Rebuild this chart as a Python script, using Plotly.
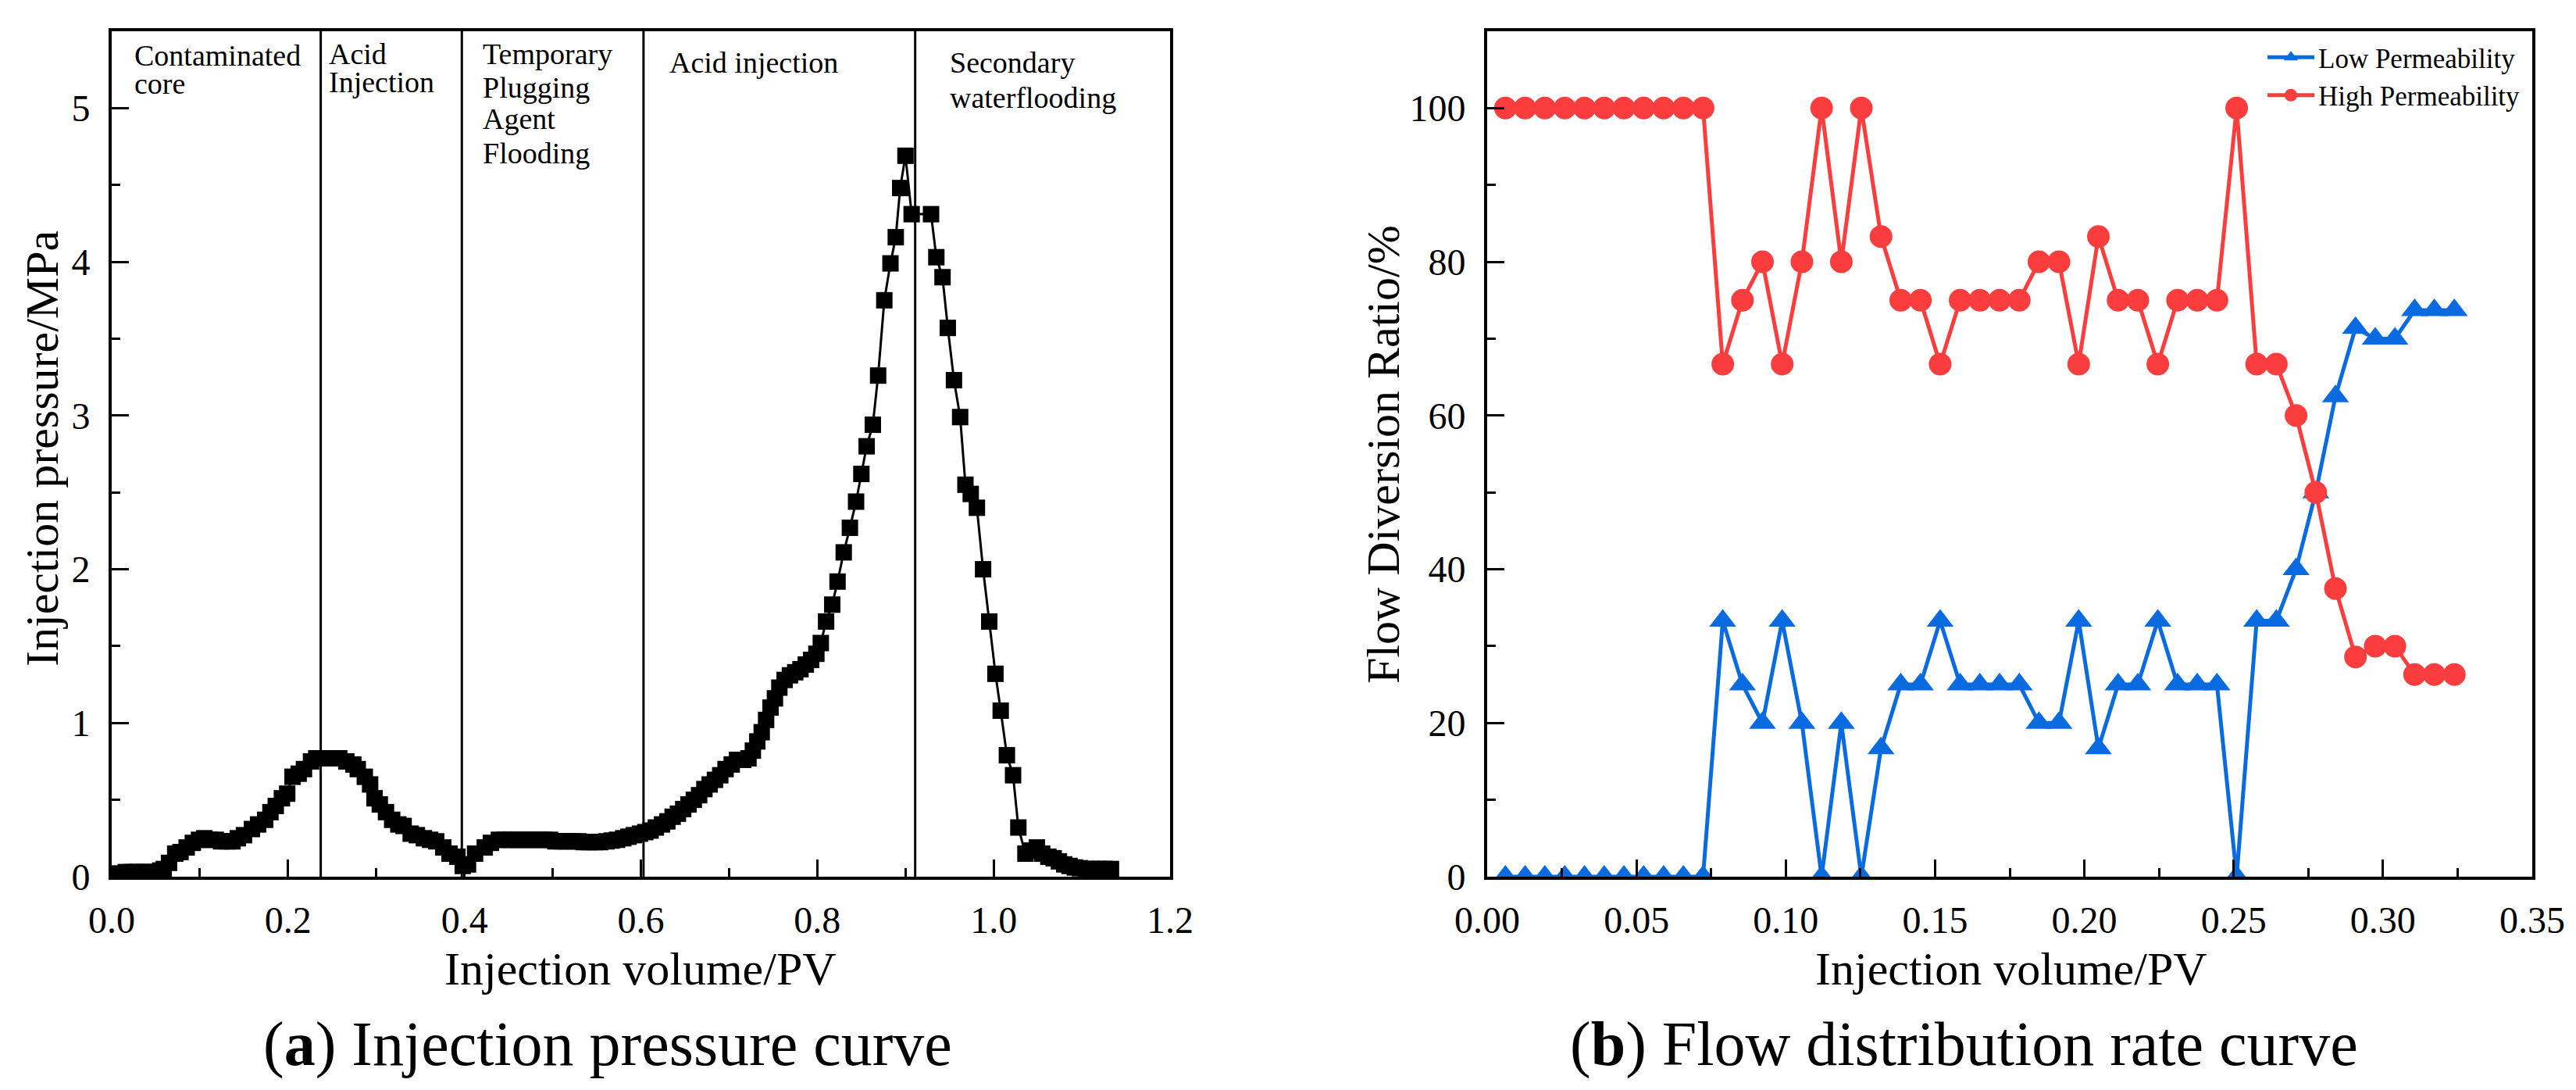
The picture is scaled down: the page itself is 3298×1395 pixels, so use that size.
import plotly.graph_objects as go

W, H = 3298, 1395

# ---- (a) injection pressure curve ----
pv_a = [
    0.003, 0.010, 0.016, 0.023, 0.029, 0.036, 0.042, 0.049, 0.055,
    0.059, 0.065, 0.072, 0.078, 0.085, 0.092, 0.099, 0.105, 0.111, 0.118,
    0.124, 0.131, 0.137, 0.143, 0.150, 0.159, 0.166, 0.174, 0.180, 0.186,
    0.193, 0.199, 0.205, 0.212, 0.218, 0.226, 0.232, 0.239, 0.245, 0.252,
    0.258, 0.266, 0.274, 0.279, 0.287, 0.293, 0.298, 0.304, 0.311, 0.318,
    0.325, 0.331, 0.339, 0.346, 0.354, 0.361, 0.368, 0.376, 0.383, 0.392,
    0.398, 0.404, 0.412, 0.423, 0.430, 0.439, 0.446, 0.452, 0.459, 0.465,
    0.471, 0.478, 0.484, 0.490, 0.497,
    0.503, 0.510, 0.516, 0.522, 0.529, 0.535, 0.541, 0.548, 0.554, 0.561,
    0.567, 0.573, 0.580, 0.586, 0.592, 0.599, 0.605, 0.611, 0.617, 0.624,
    0.630, 0.636, 0.642, 0.648, 0.654, 0.660, 0.666, 0.672, 0.678, 0.684,
    0.690, 0.696, 0.703, 0.709, 0.716, 0.722, 0.727, 0.732, 0.737, 0.742,
    0.747, 0.752, 0.757, 0.763, 0.769, 0.775, 0.781, 0.787, 0.793, 0.799,
    0.804, 0.810, 0.817, 0.823, 0.830, 0.837, 0.844, 0.850, 0.856, 0.863,
    0.869, 0.876, 0.883, 0.889, 0.894, 0.900, 0.907,
    0.929, 0.935, 0.942, 0.948, 0.955, 0.962, 0.968, 0.974, 0.981, 0.988,
    0.995, 1.002, 1.008, 1.015, 1.022, 1.028, 1.036, 1.042, 1.049, 1.055,
    1.062, 1.068, 1.074, 1.080, 1.086, 1.092, 1.098, 1.105, 1.112, 1.119,
    1.126, 1.133,
]
pressure = [
    0.02, 0.02, 0.03, 0.03, 0.03, 0.03, 0.03, 0.03, 0.04,
    0.05, 0.09, 0.15, 0.16, 0.19, 0.22, 0.24, 0.25, 0.24, 0.24,
    0.23, 0.23, 0.23, 0.25, 0.27, 0.31, 0.34, 0.37, 0.42, 0.46,
    0.51, 0.54, 0.65, 0.67, 0.70, 0.75, 0.77, 0.77, 0.77, 0.77,
    0.77, 0.75, 0.73, 0.70, 0.65, 0.60, 0.51, 0.47, 0.42, 0.37,
    0.34, 0.33, 0.28, 0.27, 0.25, 0.24, 0.23, 0.19, 0.15, 0.13,
    0.07, 0.08, 0.15, 0.19, 0.22, 0.24, 0.24, 0.24, 0.24, 0.24,
    0.24, 0.24, 0.24, 0.24, 0.24,
    0.23, 0.23, 0.23, 0.23, 0.23, 0.225, 0.225, 0.225, 0.225, 0.23,
    0.235, 0.24, 0.25, 0.26, 0.27, 0.28, 0.29, 0.30, 0.32, 0.34,
    0.36, 0.39, 0.41, 0.44, 0.47, 0.50, 0.53, 0.57, 0.60, 0.63,
    0.66, 0.70, 0.73, 0.76, 0.76, 0.77, 0.82, 0.88, 0.94, 1.02,
    1.10, 1.16, 1.23, 1.28, 1.31, 1.33, 1.35, 1.38, 1.41, 1.45,
    1.52, 1.66, 1.77, 1.92, 2.11, 2.27, 2.44, 2.62, 2.80, 2.94,
    3.26, 3.75, 3.99, 4.16, 4.48, 4.69, 4.31,
    4.31, 4.03, 3.90, 3.57, 3.23, 2.99, 2.55, 2.49, 2.40, 2.00,
    1.66, 1.32, 1.08, 0.79, 0.66, 0.32, 0.15, 0.17, 0.19, 0.15,
    0.13, 0.12, 0.10, 0.08, 0.07, 0.06, 0.055, 0.05, 0.05, 0.05,
    0.05, 0.05,
]
stage_bounds = [0.237, 0.397, 0.603, 0.911]

# stage captions: text, left x (px), baseline y (px)
stage_text = [
    ("Contaminated", 162, 76), ("core", 162, 112),
    ("Acid", 411, 74), ("Injection", 411, 110),
    ("Temporary", 608, 74), ("Plugging", 608, 117),
    ("Agent", 608, 157), ("Flooding", 608, 201),
    ("Acid injection", 847, 85),
    ("Secondary", 1206, 85), ("waterflooding", 1206, 130),
]

# ---- (b) flow distribution rate curve ----
pv_b = [
    0.0061, 0.0127, 0.0193, 0.0260, 0.0326, 0.0392, 0.0458, 0.0524, 0.0591, 0.0657,
    0.0723, 0.0789, 0.0855, 0.0922, 0.0988, 0.1054, 0.1120, 0.1186, 0.1253, 0.1319,
    0.1385, 0.1451, 0.1517, 0.1584, 0.1650, 0.1716, 0.1782, 0.1848, 0.1915, 0.1981,
    0.2047, 0.2113, 0.2179, 0.2246, 0.2312, 0.2378, 0.2444, 0.2510, 0.2577, 0.2643,
    0.2709, 0.2775, 0.2841, 0.2908, 0.2974, 0.3040, 0.3106, 0.3172, 0.3239,
]
low_perm = [
    0, 0, 0, 0, 0, 0, 0, 0, 0, 0,
    0, 33.3, 25, 20, 33.3, 20, 0, 20, 0, 16.7,
    25, 25, 33.3, 25, 25, 25, 25, 20, 20, 33.3,
    16.7, 25, 25, 33.3, 25, 25, 25, 0, 33.3, 33.3,
    40, 50, 62.5, 71.4, 70, 70, 73.7, 73.7, 73.7,
]
high_perm = [
    100, 100, 100, 100, 100, 100, 100, 100, 100, 100,
    100, 66.7, 75, 80, 66.7, 80, 100, 80, 100, 83.3,
    75, 75, 66.7, 75, 75, 75, 75, 80, 80, 66.7,
    83.3, 75, 75, 66.7, 75, 75, 75, 100, 66.7, 66.7,
    60, 50, 37.5, 28.6, 30, 30, 26.3, 26.3, 26.3,
]

FONT = "Liberation Serif"
BLUE = "#0A6BE0"
RED = "#FC3D3D"


def px(x):
    return x / W


def py(y):
    return 1 - y / H


fig = go.Figure()

fig.add_trace(go.Scatter(
    x=pv_a, y=pressure, mode="lines+markers", showlegend=False,
    line=dict(color="black", width=3),
    marker=dict(symbol="square", size=21, color="black"),
    xaxis="x", yaxis="y",
))

fig.add_trace(go.Scatter(
    x=pv_b, y=low_perm, mode="lines+markers", name="Low Permeability",
    line=dict(color=BLUE, width=5),
    marker=dict(symbol="triangle-up", size=30, color=BLUE),
    xaxis="x2", yaxis="y2",
))
fig.add_trace(go.Scatter(
    x=pv_b, y=high_perm, mode="lines+markers", name="High Permeability",
    line=dict(color=RED, width=5),
    marker=dict(symbol="circle", size=29, color=RED),
    xaxis="x2", yaxis="y2",
))

# stage boundaries in panel (a)
for b in stage_bounds:
    fig.add_shape(type="line", xref="x", yref="y domain", x0=b, x1=b, y0=0, y1=1,
                  line=dict(color="black", width=3))

for txt, x0, yb in stage_text:
    fig.add_annotation(text=txt, x=px(x0), y=py(yb - 0.3375 * 38), xref="paper", yref="paper",
                       xanchor="left", yanchor="middle", showarrow=False,
                       font=dict(family=FONT, size=38, color="black"))

tick_font = dict(family=FONT, size=48, color="black")
axis_common = dict(
    showline=True, linewidth=4, linecolor="black", mirror=True,
    ticks="inside", ticklen=22, tickwidth=3, tickcolor="black",
    tickfont=tick_font, showgrid=False, zeroline=False, automargin=False,
)
y_dom = [py(1114), py(32)]

fig.update_layout(
    width=W, height=H,
    margin=dict(l=0, r=0, t=0, b=0),
    paper_bgcolor="white", plot_bgcolor="white",
    xaxis=dict(domain=[px(135), px(1490)], range=[0, 1.2], dtick=0.2, tickformat=".1f",
               minor=dict(ticks="inside", ticklen=11, tickwidth=3, tickcolor="black", dtick=0.1),
               ticklabelstandoff=10, anchor="y", **axis_common),
    yaxis=dict(domain=y_dom, range=[0, 5.5], dtick=1,
               minor=dict(ticks="inside", ticklen=11, tickwidth=3, tickcolor="black", dtick=0.5),
               ticklabelstandoff=14, anchor="x", **axis_common),
    xaxis2=dict(domain=[px(1896), px(3234)], range=[0, 0.35], dtick=0.05, tickformat=".2f",
                minor=dict(ticks="inside", ticklen=11, tickwidth=3, tickcolor="black", dtick=0.025),
                ticklabelstandoff=10, anchor="y2", **axis_common),
    yaxis2=dict(domain=y_dom, range=[0, 110], dtick=20,
                minor=dict(ticks="inside", ticklen=11, tickwidth=3, tickcolor="black", dtick=10),
                ticklabelstandoff=14, anchor="x2", **axis_common),
    legend=dict(x=px(3224), y=py(36), xanchor="right", yanchor="top",
                bgcolor="rgba(0,0,0,0)", font=dict(family=FONT, size=35, color="black"),
                itemwidth=60, tracegroupgap=0),
    showlegend=True,
)


def centred_text(text, x, y, font, angle=0):
    fig.add_annotation(text=text, x=px(x), y=py(y), xref="paper", yref="paper",
                       xanchor="center", yanchor="middle", textangle=angle,
                       showarrow=False, font=font)


title_font = dict(family=FONT, size=60, color="black")
# axis titles
centred_text("Injection volume/PV", 812, 1232, title_font)
centred_text("Injection volume/PV", 2567, 1232, title_font)
centred_text("Injection pressure/MPa", 46, 566, title_font, -90)
centred_text("Flow Diversion Ratio/%", 1763, 574, title_font, -90)

# panel captions
cap_font = dict(family=FONT, size=80, color="black")
centred_text("(<b>a</b>) Injection pressure curve", 770, 1328, cap_font)
centred_text("(<b>b</b>) Flow distribution rate curve", 2506, 1328, cap_font)

fig.write_html("out.html")
